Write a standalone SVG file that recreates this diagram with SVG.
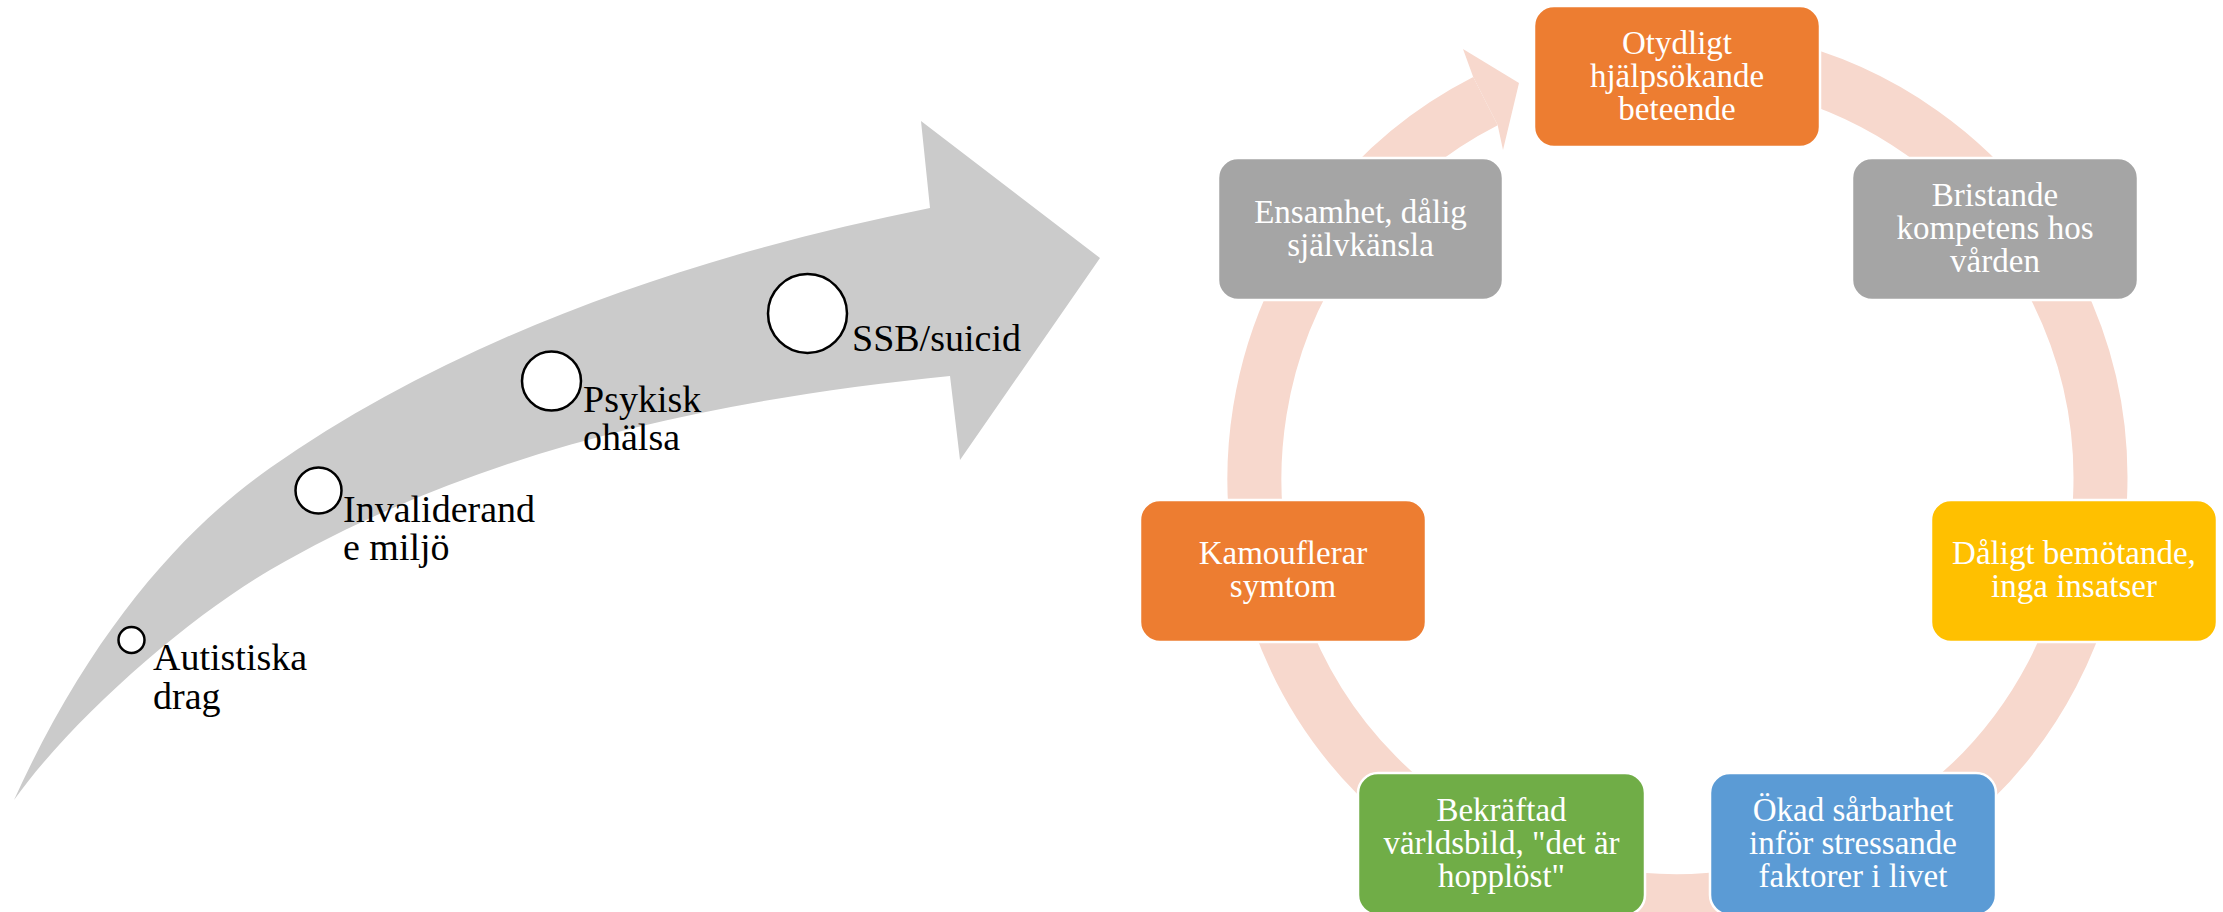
<svg xmlns="http://www.w3.org/2000/svg" width="2223" height="912" viewBox="0 0 2223 912">
<style>
.lbl{font-family:"Liberation Serif","Times New Roman",serif;font-size:38px;fill:#000}
.bt{font-family:"Liberation Serif","Times New Roman",serif;font-size:33px;fill:#fff;text-anchor:middle}
.box{stroke:#fff;stroke-width:2.5}
.dot{fill:#fff;stroke:#000;stroke-width:2.5}
.ring{fill:none;stroke:#F7D8CD;stroke-width:54}
</style>
<rect width="2223" height="912" fill="#fff"/>
<g id="progress-arrow">
<path fill="#CBCBCB" d="M14,800 C94,624 190,524 270,468 C450,342 680,258 930,208 L921,121 L1100,258 L960,460 L950,376 C700,401 470,454 270,570 C190,616.4 74,716 14,800 Z"/>
</g>
<g id="step-autistiska">
<circle class="dot" cx="131.5" cy="640" r="13"/>
<text class="lbl" x="153" y="670">Autistiska</text>
<text class="lbl" x="153" y="709">drag</text>
</g>
<g id="step-invaliderande">
<circle class="dot" cx="318.5" cy="490.5" r="23"/>
<text class="lbl" x="343" y="522">Invaliderand</text>
<text class="lbl" x="343" y="560">e miljö</text>
</g>
<g id="step-psykisk">
<circle class="dot" cx="551.5" cy="381" r="29.5"/>
<text class="lbl" x="583" y="412">Psykisk</text>
<text class="lbl" x="583" y="450">ohälsa</text>
</g>
<g id="step-ssb">
<circle class="dot" cx="807.5" cy="313.5" r="39.5"/>
<text class="lbl" x="852" y="351">SSB/suicid</text>
</g>
<g id="connectors">
<path class="ring" d="M1750.95,61.43 A423,423 0 1 1 1485.46,101.10"/>
<polygon fill="#F7D8CD" points="1473.2,77 1463,49 1519,83 1503,150 1497.7,125.2"/>
</g>
<g id="node-otydligt">
<rect class="box" x="1534" y="6" width="286" height="141" rx="20" fill="#ED7D31"/>
<text class="bt" x="1677" y="53.5">Otydligt</text>
<text class="bt" x="1677" y="86.5">hjälpsökande</text>
<text class="bt" x="1677" y="119.5">beteende</text>
</g>
<g id="node-bristande">
<rect class="box" x="1852" y="158" width="286" height="142" rx="20" fill="#A5A5A5"/>
<text class="bt" x="1995" y="206">Bristande</text>
<text class="bt" x="1995" y="239">kompetens hos</text>
<text class="bt" x="1995" y="272">vården</text>
</g>
<g id="node-daligt">
<rect class="box" x="1931" y="500" width="286" height="142" rx="20" fill="#FFC000"/>
<text class="bt" x="2074" y="564">Dåligt bemötande,</text>
<text class="bt" x="2074" y="597">inga insatser</text>
</g>
<g id="node-okad">
<rect class="box" x="1710" y="773" width="286" height="142" rx="20" fill="#5B9BD5"/>
<text class="bt" x="1853" y="821">Ökad sårbarhet</text>
<text class="bt" x="1853" y="854">inför stressande</text>
<text class="bt" x="1853" y="887">faktorer i livet</text>
</g>
<g id="node-bekraftad">
<rect class="box" x="1358" y="773" width="287" height="142" rx="20" fill="#70AD47"/>
<text class="bt" x="1501.5" y="821">Bekräftad</text>
<text class="bt" x="1501.5" y="854">världsbild, "det är</text>
<text class="bt" x="1501.5" y="887">hopplöst"</text>
</g>
<g id="node-kamouflerar">
<rect class="box" x="1140" y="500" width="286" height="142" rx="20" fill="#ED7D31"/>
<text class="bt" x="1283" y="564">Kamouflerar</text>
<text class="bt" x="1283" y="597">symtom</text>
</g>
<g id="node-ensamhet">
<rect class="box" x="1218" y="158" width="285" height="142" rx="20" fill="#A5A5A5"/>
<text class="bt" x="1360.5" y="222.5">Ensamhet, dålig</text>
<text class="bt" x="1360.5" y="255.5">självkänsla</text>
</g>
</svg>
